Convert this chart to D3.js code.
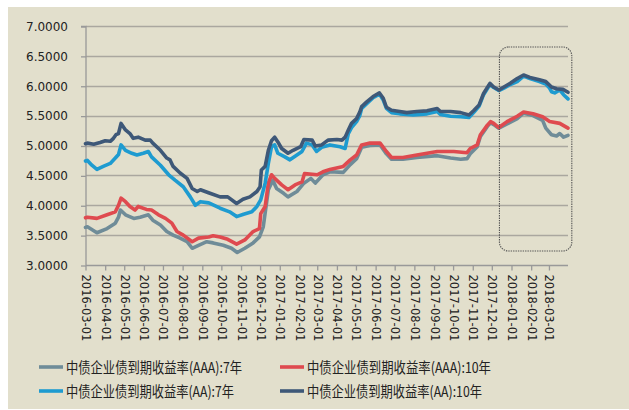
<!DOCTYPE html>
<html><head><meta charset="utf-8">
<script src="https://cdn.jsdelivr.net/npm/d3@7"></script>
<style>html,body{margin:0;padding:0;background:#fff;}svg{display:block;}</style>
</head><body>
<svg id="chart" width="629" height="410"></svg>
<script>
// ---- data ----
const seriesNames = ["中债企业债到期收益率(AAA):7年","中债企业债到期收益率(AAA):10年","中债企业债到期收益率(AA):7年","中债企业债到期收益率(AA):10年"];
const seriesColors = ["#6f8c98","#df4a4f","#1e9bd0","#3e5878"];
const yTicks = [3.0,3.5,4.0,4.5,5.0,5.5,6.0,6.5,7.0];
const xTickLabels = ["2016-03-01","2016-04-01","2016-05-01","2016-06-01","2016-07-01","2016-08-01","2016-09-01","2016-10-01","2016-11-01","2016-12-01","2017-01-01","2017-02-01","2017-03-01","2017-04-01","2017-05-01","2017-06-01","2017-07-01","2017-08-01","2017-09-01","2017-10-01","2017-11-01","2017-12-01","2018-01-01","2018-02-01","2018-03-01"];

const aaa7 = [
["2016-03-01",3.63],["2016-03-04",3.64],["2016-03-19",3.54],["2016-04-04",3.61],["2016-04-17",3.70],["2016-04-22",3.80],["2016-04-25",3.92],["2016-05-03",3.84],["2016-05-16",3.78],["2016-05-26",3.80],["2016-06-08",3.84],["2016-06-15",3.75],["2016-06-27",3.67],["2016-07-07",3.56],["2016-07-17",3.50],["2016-07-28",3.45],["2016-08-08",3.39],["2016-08-16",3.28],["2016-08-26",3.33],["2016-09-08",3.39],["2016-09-18",3.37],["2016-10-04",3.33],["2016-10-17",3.28],["2016-10-26",3.21],["2016-11-07",3.28],["2016-11-20",3.37],["2016-11-30",3.47],["2016-12-06",3.64],["2016-12-14",4.26],["2016-12-21",4.42],["2016-12-27",4.28],["2017-01-07",4.20],["2017-01-14",4.14],["2017-01-28",4.23],["2017-02-08",4.37],["2017-02-19",4.45],["2017-02-26",4.37],["2017-03-10",4.51],["2017-03-21",4.56],["2017-04-11",4.55],["2017-04-22",4.68],["2017-05-02",4.78],["2017-05-10",4.97],["2017-05-23",5.00],["2017-06-08",5.01],["2017-06-18",4.86],["2017-06-26",4.77],["2017-07-14",4.77],["2017-08-05",4.80],["2017-09-06",4.83],["2017-09-27",4.79],["2017-10-13",4.77],["2017-10-23",4.78],["2017-10-28",4.86],["2017-11-08",4.98],["2017-11-13",5.15],["2017-11-24",5.32],["2017-11-29",5.38],["2017-12-04",5.35],["2017-12-12",5.29],["2017-12-25",5.36],["2018-01-10",5.45],["2018-01-20",5.54],["2018-02-04",5.50],["2018-02-19",5.42],["2018-02-24",5.29],["2018-03-05",5.18],["2018-03-13",5.16],["2018-03-18",5.20],["2018-03-24",5.14],["2018-03-31",5.17]
];
const aaa10 = [
["2016-03-01",3.79],["2016-03-04",3.80],["2016-03-19",3.78],["2016-04-04",3.84],["2016-04-17",3.89],["2016-04-22",4.00],["2016-04-26",4.12],["2016-05-03",4.06],["2016-05-10",3.98],["2016-05-18",3.92],["2016-05-23",3.98],["2016-06-05",3.93],["2016-06-13",3.92],["2016-06-24",3.84],["2016-07-05",3.78],["2016-07-15",3.70],["2016-07-23",3.56],["2016-08-02",3.50],["2016-08-16",3.39],["2016-08-26",3.45],["2016-09-11",3.47],["2016-09-18",3.49],["2016-09-29",3.47],["2016-10-11",3.43],["2016-10-25",3.35],["2016-11-07",3.42],["2016-11-20",3.56],["2016-11-30",3.61],["2016-12-02",3.86],["2016-12-09",3.98],["2016-12-14",4.37],["2016-12-19",4.51],["2016-12-24",4.45],["2017-01-04",4.34],["2017-01-14",4.26],["2017-01-25",4.34],["2017-02-05",4.39],["2017-02-09",4.53],["2017-02-21",4.52],["2017-03-01",4.51],["2017-03-10",4.56],["2017-03-21",4.60],["2017-04-11",4.65],["2017-04-22",4.76],["2017-05-02",4.84],["2017-05-10",5.01],["2017-05-23",5.04],["2017-06-08",5.04],["2017-06-18",4.90],["2017-06-26",4.80],["2017-07-14",4.80],["2017-08-05",4.84],["2017-09-06",4.90],["2017-10-02",4.90],["2017-10-23",4.88],["2017-10-28",4.95],["2017-11-08",5.01],["2017-11-13",5.18],["2017-11-24",5.34],["2017-11-29",5.40],["2017-12-04",5.37],["2017-12-12",5.30],["2017-12-25",5.40],["2018-01-10",5.49],["2018-01-20",5.56],["2018-02-04",5.53],["2018-02-19",5.48],["2018-03-02",5.40],["2018-03-18",5.37],["2018-03-31",5.29]
];
const aa7 = [
["2016-03-01",4.74],["2016-03-04",4.75],["2016-03-11",4.67],["2016-03-19",4.60],["2016-03-29",4.65],["2016-04-09",4.70],["2016-04-17",4.79],["2016-04-22",4.85],["2016-04-26",5.01],["2016-05-03",4.92],["2016-05-13",4.87],["2016-05-21",4.84],["2016-05-31",4.87],["2016-06-08",4.90],["2016-06-13",4.81],["2016-06-27",4.67],["2016-07-10",4.51],["2016-07-20",4.42],["2016-08-02",4.31],["2016-08-13",4.14],["2016-08-21",4.00],["2016-08-29",4.06],["2016-09-11",4.04],["2016-09-13",4.03],["2016-09-29",3.95],["2016-10-14",3.89],["2016-10-25",3.81],["2016-11-05",3.85],["2016-11-18",3.89],["2016-11-26",3.98],["2016-12-02",4.09],["2016-12-09",4.37],["2016-12-14",4.70],["2016-12-19",4.98],["2016-12-24",5.01],["2016-12-29",4.87],["2017-01-09",4.81],["2017-01-17",4.76],["2017-01-28",4.84],["2017-02-05",4.90],["2017-02-12",5.04],["2017-02-21",5.01],["2017-02-28",4.90],["2017-03-08",4.97],["2017-03-21",5.01],["2017-04-06",4.98],["2017-04-14",4.95],["2017-04-19",5.20],["2017-04-24",5.30],["2017-05-02",5.40],["2017-05-07",5.50],["2017-05-10",5.62],["2017-05-18",5.70],["2017-05-28",5.80],["2017-06-07",5.86],["2017-06-13",5.76],["2017-06-18",5.62],["2017-06-26",5.55],["2017-07-09",5.53],["2017-07-20",5.52],["2017-07-30",5.51],["2017-08-21",5.53],["2017-09-06",5.57],["2017-09-11",5.52],["2017-09-27",5.49],["2017-10-13",5.48],["2017-10-26",5.47],["2017-11-03",5.56],["2017-11-11",5.66],["2017-11-18",5.85],["2017-11-28",6.02],["2017-12-04",5.97],["2017-12-12",5.92],["2017-12-20",5.96],["2017-12-30",6.02],["2018-01-10",6.07],["2018-01-20",6.16],["2018-01-30",6.12],["2018-02-14",6.07],["2018-02-24",6.03],["2018-03-02",5.96],["2018-03-05",5.90],["2018-03-10",5.88],["2018-03-18",5.93],["2018-03-24",5.85],["2018-03-31",5.78]
];
const aa10 = [
["2016-03-01",5.03],["2016-03-04",5.04],["2016-03-14",5.02],["2016-03-24",5.05],["2016-04-01",5.08],["2016-04-09",5.07],["2016-04-14",5.12],["2016-04-18",5.18],["2016-04-22",5.20],["2016-04-26",5.37],["2016-05-03",5.26],["2016-05-10",5.20],["2016-05-15",5.12],["2016-05-23",5.14],["2016-06-03",5.09],["2016-06-11",5.09],["2016-06-15",5.04],["2016-06-27",4.92],["2016-07-07",4.79],["2016-07-12",4.76],["2016-07-17",4.65],["2016-07-28",4.54],["2016-08-08",4.45],["2016-08-16",4.28],["2016-08-24",4.23],["2016-08-29",4.26],["2016-09-13",4.20],["2016-09-29",4.14],["2016-10-11",4.14],["2016-10-25",4.03],["2016-11-04",4.10],["2016-11-15",4.14],["2016-11-26",4.23],["2016-12-01",4.31],["2016-12-03",4.59],["2016-12-09",4.65],["2016-12-14",4.92],["2016-12-19",5.08],["2016-12-24",5.14],["2016-12-29",5.06],["2017-01-04",4.95],["2017-01-14",4.87],["2017-01-22",4.92],["2017-02-03",4.98],["2017-02-08",5.10],["2017-02-21",5.09],["2017-02-26",4.99],["2017-03-08",5.01],["2017-03-18",5.09],["2017-04-01",5.10],["2017-04-09",5.09],["2017-04-14",5.14],["2017-04-19",5.26],["2017-04-24",5.37],["2017-05-02",5.45],["2017-05-07",5.56],["2017-05-10",5.65],["2017-05-18",5.73],["2017-05-28",5.82],["2017-06-07",5.88],["2017-06-13",5.79],["2017-06-18",5.64],["2017-06-26",5.59],["2017-07-09",5.57],["2017-07-20",5.55],["2017-08-05",5.57],["2017-08-21",5.58],["2017-09-06",5.62],["2017-09-11",5.57],["2017-09-27",5.57],["2017-10-13",5.55],["2017-10-26",5.51],["2017-11-03",5.59],["2017-11-11",5.68],["2017-11-18",5.87],["2017-11-28",6.04],["2017-12-04",5.98],["2017-12-12",5.93],["2017-12-20",5.98],["2017-12-30",6.04],["2018-01-10",6.12],["2018-01-20",6.18],["2018-01-30",6.14],["2018-02-14",6.10],["2018-02-24",6.07],["2018-03-05",5.98],["2018-03-13",5.95],["2018-03-23",5.94],["2018-03-31",5.89]
];
const seriesData = [aaa7, aaa10, aa7, aa10];
const highlightRange = ["2017-12-13","2018-04-06"];

// ---- layout ----
const parse = d3.timeParse("%Y-%m-%d");
const svg = d3.select("#chart");
svg.append("rect").attr("x",8).attr("y",7).attr("width",621).attr("height",402).attr("fill","#e2dfcc");

const x = d3.scaleTime().domain([parse("2016-03-01"), parse("2018-03-31")]).range([85.5, 568]);
const y = d3.scaleLinear().domain([3, 7]).range([265, 26]);
const x0 = 86, x1 = 568;

// gridlines
svg.append("g").selectAll("line").data(yTicks.slice(1)).join("line")
  .attr("x1",x0).attr("x2",x1).attr("y1",d=>Math.round(y(d))+0.5).attr("y2",d=>Math.round(y(d))+0.5)
  .attr("stroke","#aaa79f").attr("stroke-width",1.3);

// y axis
const yAxis = d3.axisLeft(y).tickValues(yTicks).tickFormat(d3.format(".4f")).tickSize(5).tickPadding(13);
const gy = svg.append("g").attr("transform",`translate(${x0},0.5)`).call(yAxis);
gy.select(".domain").attr("stroke","#999").attr("stroke-width",1.3).attr("d",`M-5,${y(7)}H0V${y(3)}`);
gy.selectAll(".tick line").attr("stroke","#999").attr("stroke-width",1.3);
gy.selectAll(".tick text").attr("fill","#222").style("font-family","DejaVu Sans").style("font-size","12px");

// x axis
const xTicks = xTickLabels.map(parse);
const xAxis = d3.axisBottom(x).tickValues(xTicks).tickFormat(d3.timeFormat("%Y-%m-%d")).tickSize(5).tickSizeOuter(0);
const gx = svg.append("g").attr("transform",`translate(0,${Math.round(y(3))+0.5})`).call(xAxis);
gx.select(".domain").attr("stroke","#999").attr("stroke-width",1.3).attr("d",`M${x0},0H${x1}`);
gx.selectAll(".tick line").attr("stroke","#999").attr("stroke-width",1.3);
gx.selectAll(".tick text").attr("fill","#222").style("font-family","DejaVu Sans").style("font-size","11.5px")
  .attr("text-anchor","start").attr("dy",null).attr("y",0)
  .attr("transform","translate(-4,9) rotate(90)");

// lines
const line = d3.line().x(d=>x(parse(d[0]))).y(d=>y(d[1])).curve(d3.curveLinear);
seriesData.forEach((s,i)=>{
  svg.append("path").datum(s).attr("d",line).attr("fill","none")
    .attr("stroke",seriesColors[i]).attr("stroke-width",3.6).attr("stroke-linejoin","round").attr("stroke-linecap","round");
});

// highlight dotted box
svg.append("rect").attr("x",x(parse(highlightRange[0]))).attr("y",47)
  .attr("width",x(parse(highlightRange[1]))-x(parse(highlightRange[0]))).attr("height",204)
  .attr("rx",9).attr("fill","none").attr("stroke","#555").attr("stroke-width",1.1).attr("stroke-dasharray","1.4,1");

// legend
const legPos = [[39,367,176],[280,367,184],[39,391,168],[280,391,175]];
seriesNames.forEach((n,i)=>{
  const [lx,ly,tw] = legPos[i];
  svg.append("line").attr("x1",lx).attr("x2",lx+24).attr("y1",ly).attr("y2",ly)
    .attr("stroke",seriesColors[i]).attr("stroke-width",3.6);
  svg.append("text").attr("x",lx+27).attr("y",ly+5.5).text(n)
    .attr("fill","#222").style("font-family","'Noto Sans CJK SC'").style("font-size","15px")
    .attr("textLength",tw).attr("lengthAdjust","spacingAndGlyphs");
});
</script>
</body></html>
